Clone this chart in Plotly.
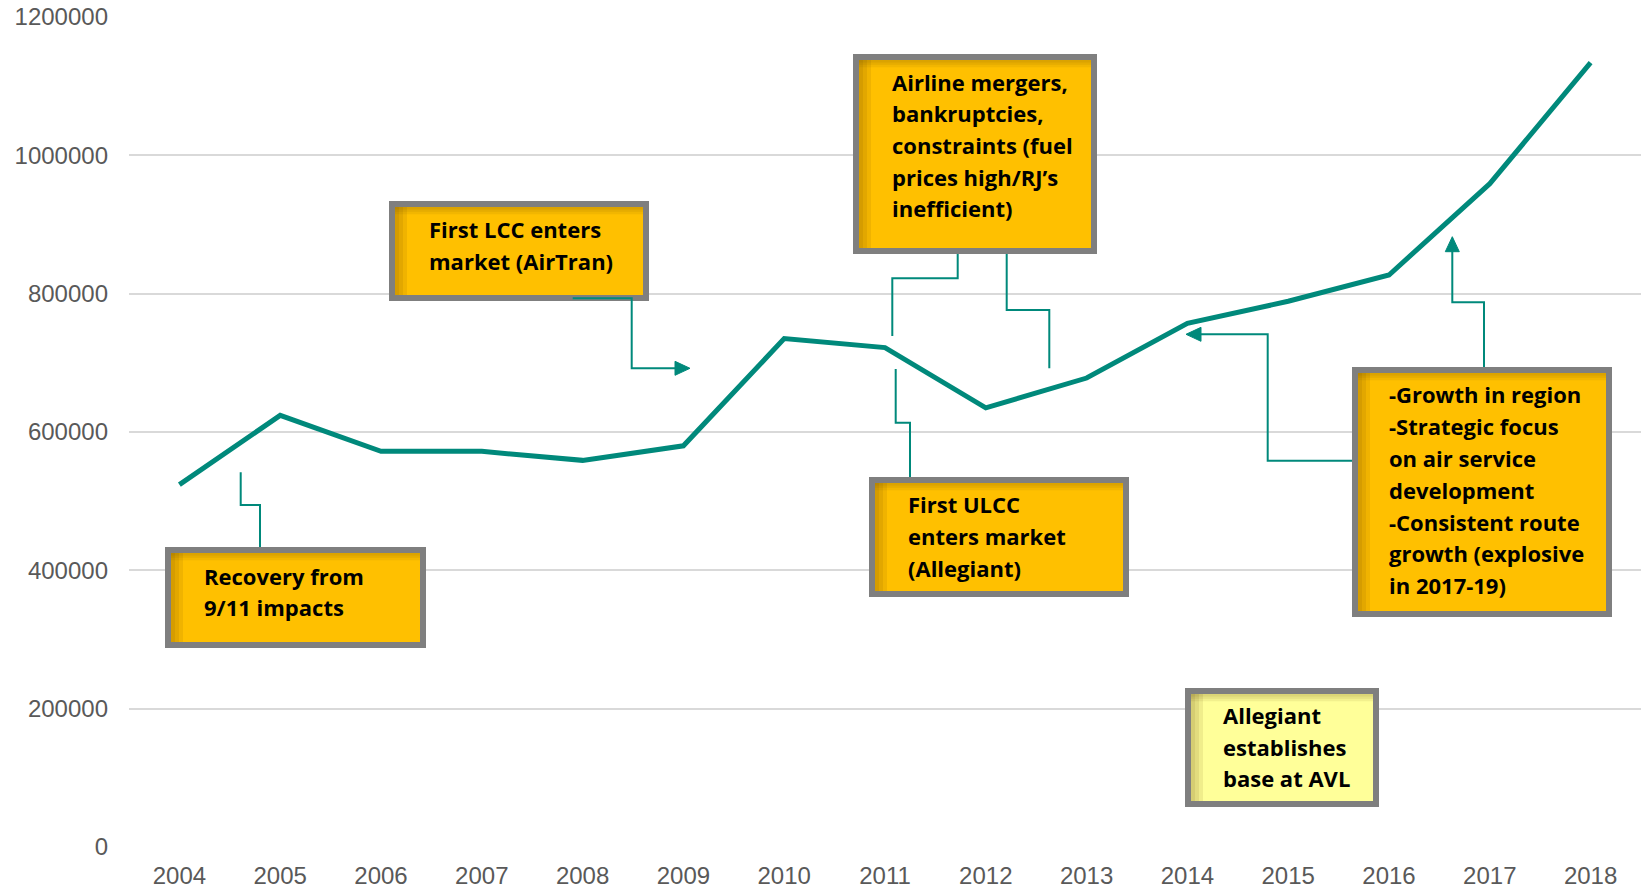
import plotly.graph_objects as go

# Annual passenger counts
years = ["2004", "2005", "2006", "2007", "2008", "2009", "2010", "2011",
         "2012", "2013", "2014", "2015", "2016", "2017", "2018"]
passengers = [524000, 624000, 572000, 572000, 559000, 580000, 735000, 722000,
              635000, 678000, 757000, 789000, 827000, 959000, 1134000]

y_ticks = [0, 200000, 400000, 600000, 800000, 1000000, 1200000]

# Callout texts
recovery_lines = ["Recovery from", "9/11 impacts"]
lcc_lines = ["First LCC enters", "market (AirTran)"]
mergers_lines = ["Airline mergers,", "bankruptcies,", "constraints (fuel",
                 "prices high/RJ\u2019s", "inefficient)"]
ulcc_lines = ["First ULCC", "enters market", "(Allegiant)"]
growth_lines = ["-Growth in region", "-Strategic focus", "on air service",
                "development", "-Consistent route", "growth (explosive",
                "in 2017-19)"]
base_lines = ["Allegiant", "establishes", "base at AVL"]

TEAL = "#00897b"
ORANGE = "#ffc000"
PALE = "#ffff99"
BORDER = "#7f7f7f"

W, H = 1641, 889
M_L, M_R, M_T, M_B = 129, 0, 17, 42
PW, PH = W - M_L - M_R, H - M_T - M_B


def fx(x):
    """pixel x -> paper x"""
    return (x - M_L) / PW


def fy(y):
    """pixel y -> paper y"""
    return (H - M_B - y) / PH


fig = go.Figure()
fig.add_trace(go.Scatter(
    x=years, y=passengers, mode="lines",
    line=dict(color=TEAL, width=5), hoverinfo="skip", showlegend=False,
))

shapes = []
annotations = []


def callout(x0, y0, x1, y1, fill, tx, baselines, lines):
    bw = 6
    h = bw / 2
    shapes.append(dict(type="rect", xref="paper", yref="paper",
                       x0=fx(x0 + h), x1=fx(x1 - h), y0=fy(y0 + h), y1=fy(y1 - h),
                       fillcolor=fill, line=dict(color=BORDER, width=bw)))
    # soft inner shadow along the left and top edges
    for w in [12, 8, 4]:
        shapes.append(dict(type="rect", xref="paper", yref="paper",
                           x0=fx(x0 + bw), x1=fx(x0 + bw + w),
                           y0=fy(y0 + bw), y1=fy(y1 - bw),
                           fillcolor="rgba(90,60,0,0.09)", line=dict(width=0)))
        shapes.append(dict(type="rect", xref="paper", yref="paper",
                           x0=fx(x0 + bw), x1=fx(x1 - bw),
                           y0=fy(y0 + bw), y1=fy(y0 + bw + w * 0.6),
                           fillcolor="rgba(90,60,0,0.08)", line=dict(width=0)))
    for b, t in zip(baselines, lines):
        annotations.append(dict(
            xref="paper", yref="paper", x=fx(tx - 1), y=fy(b - 10),
            xanchor="left", yanchor="middle", showarrow=False, text=t,
            font=dict(family="Open Sans", size=22, color="#000000", weight=700),
        ))


def connector(points, color=TEAL, width=2):
    d = "M " + " L ".join(f"{fx(x)},{fy(y)}" for x, y in points)
    shapes.append(dict(type="path", xref="paper", yref="paper", path=d,
                       line=dict(color=color, width=width)))


def arrowhead(tip, direction, length=15, half=7):
    x, y = tip
    if direction == "right":
        pts = [(x, y), (x - length, y - half), (x - length, y + half)]
    elif direction == "left":
        pts = [(x, y), (x + length, y - half), (x + length, y + half)]
    else:  # up
        pts = [(x, y), (x - half, y + length), (x + half, y + length)]
    d = "M " + " L ".join(f"{fx(a)},{fy(b)}" for a, b in pts) + " Z"
    shapes.append(dict(type="path", xref="paper", yref="paper", path=d,
                       fillcolor=TEAL, line=dict(color=TEAL, width=1)))


callout(165, 547, 426, 648, ORANGE, 203, [585.5, 617], recovery_lines)
callout(389, 201, 649, 301, ORANGE, 428, [238.5, 271], lcc_lines)
callout(853, 54, 1097, 254, ORANGE, 891,
        [91.7, 123.3, 155, 186.7, 218.3], mergers_lines)
callout(869, 477, 1129, 597, ORANGE, 907, [514, 545.7, 578.3], ulcc_lines)
callout(1352, 367, 1612, 617, ORANGE, 1388,
        [404.3, 436, 468.3, 500, 531.7, 563.3, 595], growth_lines)
callout(1185, 688, 1379, 807, PALE, 1222, [725, 756.7, 788.3], base_lines)

connector([(260, 547), (260, 505), (240.7, 505), (240.7, 472.3)])
connector([(572.7, 298.3), (631.7, 298.3), (631.7, 368.3), (677, 368.3)])
arrowhead((690, 368.3), "right")
connector([(957.7, 254), (957.7, 278.3), (892.3, 278.3), (892.3, 336)])
connector([(1006.7, 254), (1006.7, 310), (1049.3, 310), (1049.3, 368.3)])
connector([(910, 477), (910, 422.7), (895.7, 422.7), (895.7, 369)])
connector([(1352, 460.7), (1267.7, 460.7), (1267.7, 334.3), (1199, 334.3)])
arrowhead((1186, 334.3), "left")
connector([(1484, 367), (1484, 302.3), (1452.3, 302.3), (1452.3, 250)])
arrowhead((1452.3, 236.7), "up")

tick_font = dict(family="Liberation Sans", size=24, color="#595959")

fig.update_layout(
    width=W, height=H,
    margin=dict(l=M_L, r=M_R, t=M_T, b=M_B),
    paper_bgcolor="#ffffff", plot_bgcolor="#ffffff",
    showlegend=False,
    shapes=shapes, annotations=annotations,
    xaxis=dict(type="category", range=[-0.5, 14.5], showgrid=False,
               zeroline=False, showline=False, ticks="",
               tickfont=tick_font, ticklabelstandoff=12, fixedrange=True),
    yaxis=dict(range=[0, 1200000], tickvals=y_ticks,
               ticktext=[str(v) for v in y_ticks],
               showgrid=True, gridcolor="#d9d9d9", gridwidth=1.5,
               zeroline=False, showline=False, ticks="",
               tickfont=tick_font, ticklabelstandoff=20, fixedrange=True),
)

fig.write_html("out.html")
